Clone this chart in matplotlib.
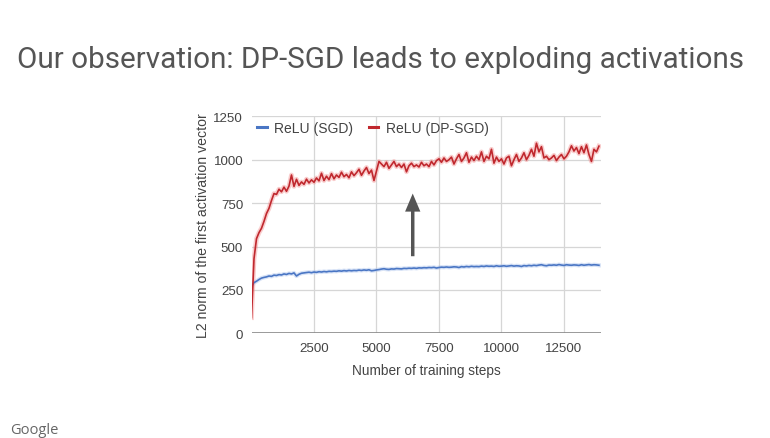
import matplotlib
matplotlib.use("Agg")
import matplotlib.pyplot as plt
from matplotlib.patches import FancyArrowPatch
from matplotlib.lines import Line2D
import numpy as np

# ---------------- data ----------------
steps = list(range(0, 14000, 100))

relu_dpsgd = [
    90, 430, 545, 580, 605, 645, 690, 720, 765, 805,
    800, 830, 815, 842, 818, 848, 912, 846, 887, 852,
    872, 858, 888, 866, 884, 870, 895, 878, 922, 880,
    905, 885, 920, 890, 912, 898, 928, 902, 915, 896,
    930, 908, 925, 945, 910, 935, 955, 920, 940, 880,
    935, 990, 975, 960, 985, 950, 970, 990, 960, 975,
    955, 975, 930, 965, 980, 960, 970, 958, 985, 965,
    975, 960, 990, 970, 995, 1005, 985, 1010, 990, 1000,
    1015, 975, 1005, 1030, 990, 1010, 1040, 985, 1015, 995,
    1020, 1000, 1045, 990, 1020, 1005, 1060, 980, 1015, 990,
    1005, 975, 1010, 1020, 965, 1000, 1030, 990, 1010, 1040,
    1000, 1025, 1060, 1020, 1095, 1045, 1075, 1010, 1020, 1000,
    1010, 1025, 995, 1015, 1030, 1005, 1020, 1045, 1080, 1050,
    1070, 1035, 1075, 1040, 1085, 1030, 990, 1060, 1045, 1078,
]

relu_sgd = [
    270, 292, 300, 310, 318, 322, 325, 330, 328, 335,
    333, 338, 336, 342, 339, 345, 342, 348, 330, 340,
    346, 348, 350, 352, 349, 353, 351, 355, 353, 356,
    354, 357, 356, 358, 357, 360, 358, 361, 359, 362,
    360, 362, 361, 364, 362, 365, 363, 366, 360, 362,
    365, 367, 370, 372, 369, 368, 371, 370, 373, 372,
    371, 374, 373, 375, 374, 376, 374, 377, 376, 378,
    377, 379, 378, 380, 376, 379, 381, 380, 382, 380,
    381, 383, 382, 379, 384, 382, 385, 383, 386, 384,
    385, 384, 387, 385, 388, 386, 387, 385, 389, 386,
    387, 389, 386, 388, 390, 387, 389, 388, 385, 390,
    388, 391, 389, 392, 390, 393, 395, 391, 389, 393,
    392, 394, 392, 396, 393, 391, 395, 393, 392, 394,
    393, 391, 395, 392, 394, 396, 393, 395, 394, 392,
]

series_names = ["ReLU (SGD)", "ReLU (DP-SGD)"]
x_ticks = [2500, 5000, 7500, 10000, 12500]
y_ticks = [0, 250, 500, 750, 1000, 1250]
arrow_x = 6450
arrow_from = 428
arrow_to = 821

title = "Our observation: DP-SGD leads to exploding activations"
xlabel = "Number of training steps"
ylabel = "L2 norm of the first activation vector"

# ---------------- style ----------------
BLUE = "#4a76c4"
RED = "#c0282e"
TICK_COLOR = "#444444"
GRID = "#d6d6d6"

W, H = 770, 439
fig = plt.figure(figsize=(W / 100, H / 100), dpi=100)
fig.patch.set_facecolor("white")

left, right = 251.5, 600.7
top, bottom = 117.3, 334.3
ax = fig.add_axes([left / W, 1 - bottom / H, (right - left) / W, (bottom - top) / H])
ax.set_facecolor("white")

# glow under lines (blurred look of the screenshot)
ax.plot(steps, relu_sgd, color="#a9c1ec", lw=3.0, alpha=0.45, solid_joinstyle="round", zorder=2)
ax.plot(steps, relu_dpsgd, color="#f39090", lw=3.4, alpha=0.45, solid_joinstyle="round", zorder=2)
ax.plot(steps, relu_sgd, color=BLUE, lw=1.2, zorder=3)
ax.plot(steps, relu_dpsgd, color=RED, lw=1.2, zorder=3)

ax.set_xlim(0, 13970)
ax.set_ylim(0, 1250)
ax.set_xticks(x_ticks)
ax.set_yticks(y_ticks)
ax.set_xticklabels([str(t) for t in x_ticks])
ax.set_yticklabels([str(t) for t in y_ticks])

for s in ["top", "right", "left", "bottom"]:
    ax.spines[s].set_visible(False)
ax.grid(True, color=GRID, lw=0.9, zorder=0)
ax.set_axisbelow(True)
ax.axhline(0, color="#8a8a8a", lw=1.2, zorder=1)

ax.tick_params(axis="both", length=0, labelsize=9.6, labelcolor=TICK_COLOR)
ax.tick_params(axis="x", pad=6.5)
ax.tick_params(axis="y", pad=6)
for lab in ax.get_xticklabels() + ax.get_yticklabels():
    lab.set_fontfamily("Liberation Sans")

ax.set_xlabel(xlabel, fontsize=9.8, color=TICK_COLOR, family="Liberation Sans")
ax.set_ylabel(ylabel, fontsize=10.2, color=TICK_COLOR, family="Liberation Sans")
ax.xaxis.set_label_coords(0.4997, -0.135)
ax.yaxis.set_label_coords(-0.118, 0.5)

# legend
handles = [Line2D([], [], color=BLUE, lw=2.2), Line2D([], [], color=RED, lw=2.2)]
leg = ax.legend(handles, series_names, loc="center left", bbox_to_anchor=(0.016, 0.946),
                ncol=2, frameon=False, handlelength=0.7, handletextpad=0.55,
                columnspacing=1.1, borderpad=0, borderaxespad=0,
                prop={"family": "Liberation Sans", "size": 10})
for t in leg.get_texts():
    t.set_color(TICK_COLOR)

# arrow
arr = FancyArrowPatch((arrow_x, arrow_from), (arrow_x, arrow_to),
                      arrowstyle="simple,head_length=13,head_width=11,tail_width=2.5",
                      mutation_scale=1, color="#555555", lw=0, zorder=4)
ax.add_patch(arr)

# title & footer
fig.text(17.3 / W, 1 - 68.3 / H, title, fontsize=21.3, color="#555555",
         family="Roboto", ha="left", va="baseline")
fig.text(10 / W, 1 - 434 / H, "Google", fontsize=10.5, color="#666666",
         family="Open Sans", ha="left", va="baseline")

fig.savefig("out.png", dpi=100, facecolor="white")
